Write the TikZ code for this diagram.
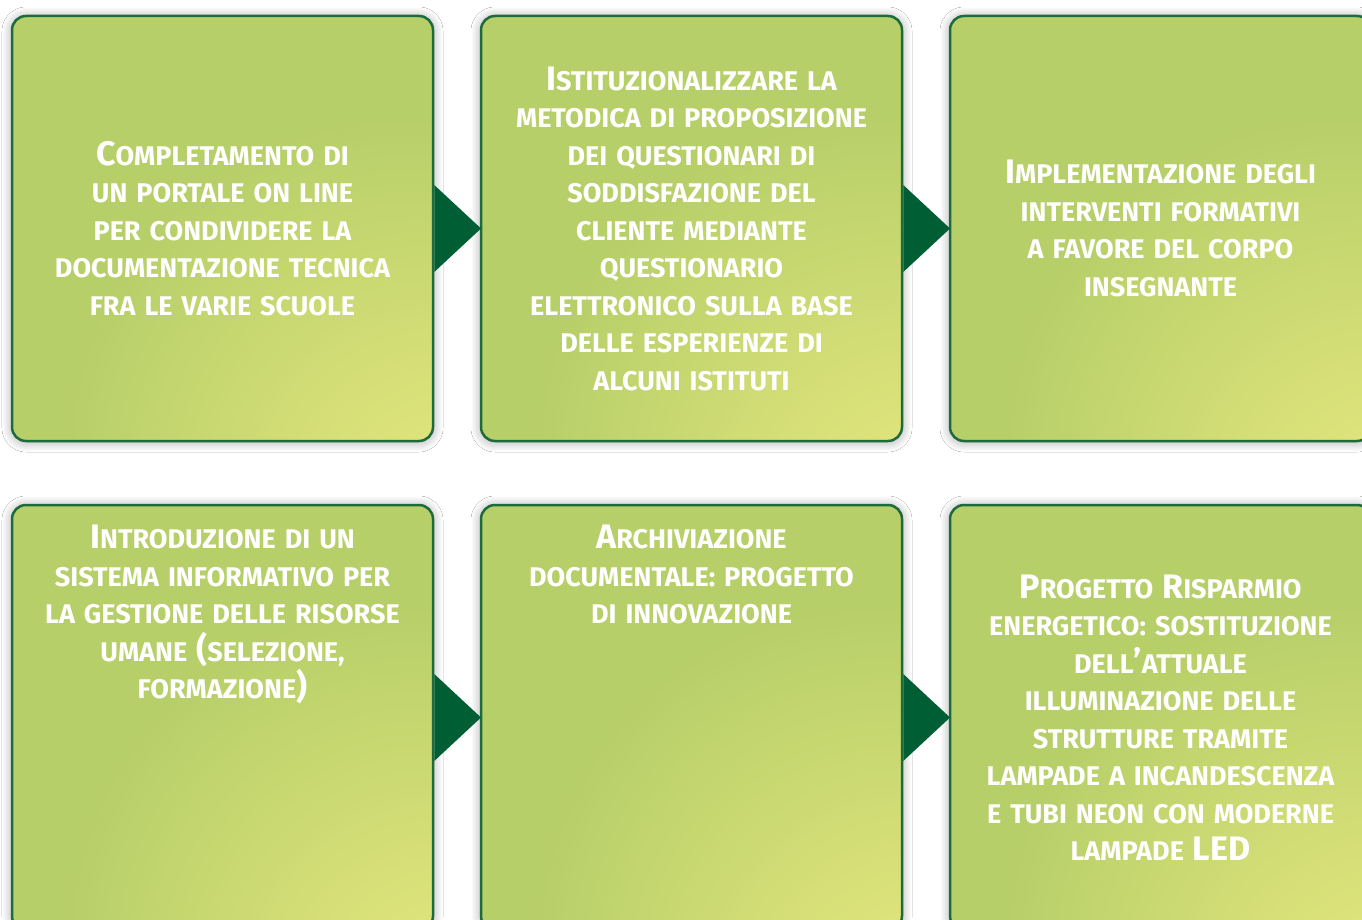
\documentclass[tikz,border=0pt]{standalone}
\usepackage{fontspec}
\setmainfont{Fira Sans}
\newfontfamily\stepfont{Fira Sans}
\usetikzlibrary{positioning,shadows.blur}

\definecolor{boxgreen}{HTML}{B7CF69}
\definecolor{boxyellow}{HTML}{E4E67E}
\definecolor{edgegreen}{HTML}{1D6A3B}
\definecolor{arrowgreen}{HTML}{005E35}

% Larger capital at the start of a word
\newcommand{\initcap}[1]{{\fontsize{34}{37.5}\selectfont #1}}

% Light spot towards the lower right corner of each box
\pgfdeclareradialshading{boxglow}{\pgfpoint{32bp}{-40bp}}{color(0bp)=(boxyellow); color(8bp)=(boxyellow); color(40bp)=(boxgreen); color(120bp)=(boxgreen)}

\begin{document}
\begin{tikzpicture}[x=1pt, y=-1pt,
        stepbox/.style={rectangle, rounded corners=14pt, draw=edgegreen, line width=2.5pt,
            shading=boxglow, minimum width=421pt, minimum height=425pt, outer sep=0pt,
            blur shadow={shadow xshift=0pt, shadow yshift=-1pt, shadow blur radius=10pt, shadow blur steps=20, shadow opacity=35}},
        steptext/.style={text=white, align=center, text width=410pt, inner sep=0pt,
            font=\stepfont\bfseries\fontsize{27}{37.5}\selectfont},
        stepmark/.style={fill=arrowgreen}]

        % Background and page size
        \fill[white] (0, 0) rectangle (1362, 920);
        \clip (0, 0) rectangle (1362, 920);

        % Draw the six boxes
        \node[stepbox] (portale) at (222.5, 228.5) {};
        \node[stepbox, right=48pt of portale] (questionari) {};
        \node[stepbox, right=48pt of questionari] (formazione) {};
        \node[stepbox, below=64pt of portale] (risorse) {};
        \node[stepbox, right=48pt of risorse] (archivio) {};
        \node[stepbox, right=48pt of archivio] (risparmio) {};

        % Draw the triangles between the boxes
        \foreach \a/\b in {portale/questionari, questionari/formazione, risorse/archivio, archivio/risparmio} {
            \fill[stepmark] ([xshift=1.25pt, yshift=43.5pt]\a.east) -- ([xshift=1.25pt, yshift=-43.5pt]\a.east) -- (\b.west) -- cycle;
        }

        % Texts of the first row
        \node[steptext] (portaletext) at (portale) {\initcap{C}OMPLETAMENTO DI\\UN PORTALE ON LINE\\PER CONDIVIDERE LA\\DOCUMENTAZIONE TECNICA\\FRA LE VARIE SCUOLE};
        \node[steptext] (questionaritext) at (questionari) {\initcap{I}STITUZIONALIZZARE LA\\METODICA DI PROPOSIZIONE\\DEI QUESTIONARI DI\\SODDISFAZIONE DEL\\CLIENTE MEDIANTE\\QUESTIONARIO\\ELETTRONICO SULLA BASE\\DELLE ESPERIENZE DI\\ALCUNI ISTITUTI};
        \node[steptext] (formazionetext) at (formazione) {\initcap{I}MPLEMENTAZIONE DEGLI\\INTERVENTI FORMATIVI\\A FAVORE DEL CORPO\\INSEGNANTE};

        % Texts of the second row
        \node[steptext, below=20pt of risorse.north] (risorsetext) {\initcap{I}NTRODUZIONE DI UN\\SISTEMA INFORMATIVO PER\\LA GESTIONE DELLE RISORSE\\UMANE \initcap{(}SELEZIONE,\\FORMAZIONE\initcap{)}};
        \node[steptext, below=20pt of archivio.north] (archiviotext) {\initcap{A}RCHIVIAZIONE\\DOCUMENTALE: PROGETTO\\DI INNOVAZIONE};
        \node[steptext] (risparmiotext) at (risparmio) {\initcap{P}ROGETTO \initcap{R}ISPARMIO\\ENERGETICO: SOSTITUZIONE\\DELL\initcap{’}ATTUALE\\ILLUMINAZIONE DELLE\\STRUTTURE TRAMITE\\LAMPADE A INCANDESCENZA\\E TUBI NEON CON MODERNE\\LAMPADE \initcap{LED}};
    \end{tikzpicture}
\end{document}
